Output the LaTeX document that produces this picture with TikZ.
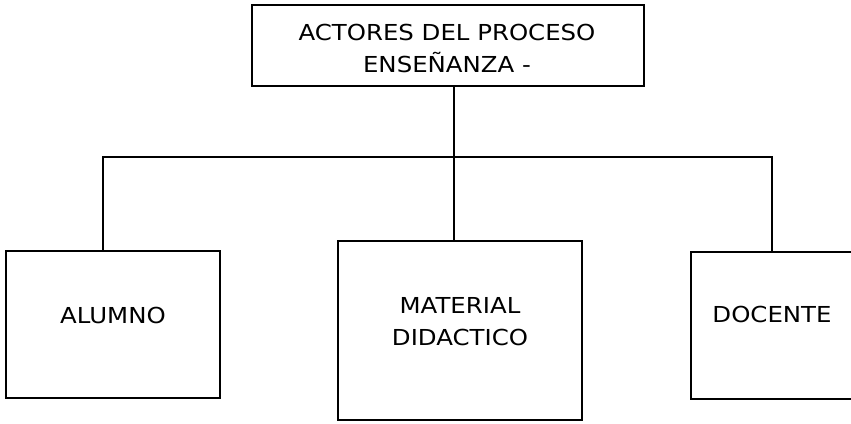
\documentclass[tikz,border=0pt]{standalone}
\usepackage{fontspec}
\setmainfont[FakeStretch=1.11]{DejaVu Sans}
\begin{document}
\begin{tikzpicture}[x=1pt,y=-1pt,
  box/.style={draw,line width=1.4pt,inner sep=0pt},
  txt/.style={inner sep=0pt,align=center,font=\fontsize{22}{32}\selectfont},
  conn/.style={line width=1.4pt}]
\useasboundingbox (0,0) rectangle (851,423);
\node[box,minimum width=392,minimum height=81] (top) at (448,45.5) {};
\node[txt] (toptxt) at (447,48.5) {ACTORES DEL PROCESO\\ENSEÑANZA -};
\node[box,minimum width=214,minimum height=147] (alumno) at (113,324.5) {};
\node[txt] (alumnotxt) at (113,315) {ALUMNO};
\node[box,minimum width=244,minimum height=179] (mat) at (460,330.5) {};
\node[txt] (mattxt) at (460,322) {MATERIAL\\DIDACTICO};
\node[box,minimum width=164,minimum height=147] (doc) at (773,325.5) {};
\node[txt] (doctxt) at (772,314.5) {DOCENTE};
\coordinate (jm) at (454,157);
\coordinate (jl) at (103,157);
\coordinate (jr) at (772,157);
\draw[conn] (jm |- top.south) -- (jm);
\draw[conn] (jl |- alumno.north) -- (jl) -- (jr) -- (jr |- doc.north);
\draw[conn] (jm) -- (jm |- mat.north);
\end{tikzpicture}
\end{document}
